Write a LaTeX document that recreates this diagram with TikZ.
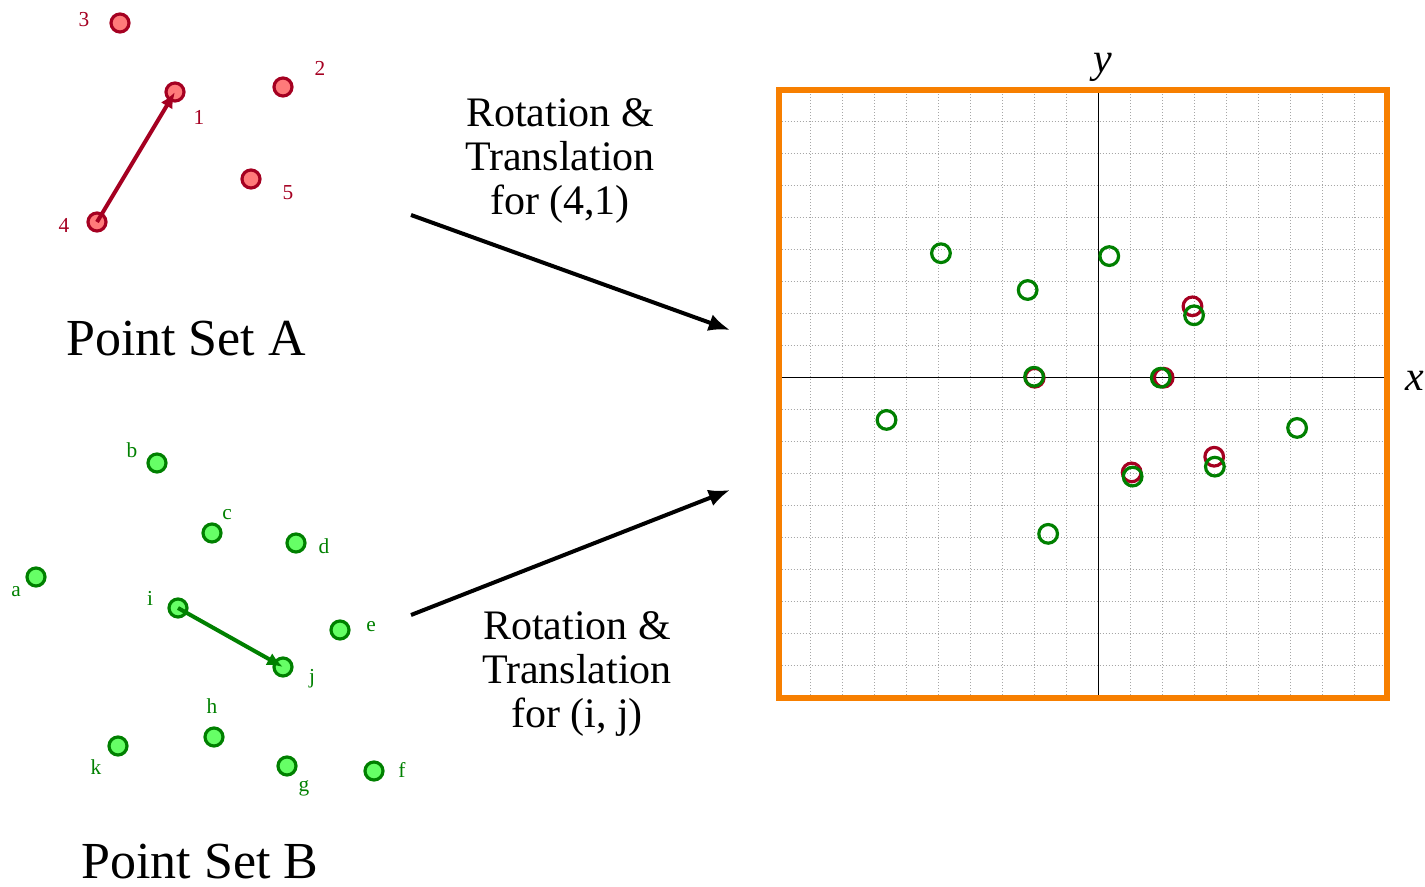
\documentclass[tikz,border=0pt]{standalone}
\usepackage{fontspec}
\setmainfont{Liberation Serif}
\usetikzlibrary{arrows.meta}
\definecolor{setred}{RGB}{165,0,33}
\definecolor{setredfill}{RGB}{255,122,122}
\definecolor{setgreen}{RGB}{0,128,0}
\definecolor{setgreenfill}{RGB}{102,255,102}
\definecolor{boxorange}{RGB}{247,127,0}
\begin{document}
\begin{tikzpicture}
		[x=0.75pt, y=-0.75pt,
		pta/.style ={circle, draw=setred, fill=setredfill, line width=2.4pt, inner sep=0pt, minimum size=13.5pt},
		ptb/.style ={circle, draw=setgreen, fill=setgreenfill, line width=2.4pt, inner sep=0pt, minimum size=13.5pt},
		lbla/.style ={text=setred, font=\fontsize{16}{16}\selectfont, inner sep=0pt},
		lblb/.style ={text=setgreen, font=\fontsize{16}{16}\selectfont, inner sep=0pt},
		title/.style ={font=\fontsize{39}{40}\selectfont, inner sep=0pt, anchor=base},
		caption/.style ={font=\fontsize{31.5}{33}\selectfont, align=center, inner sep=0pt},
		hita/.style ={circle, draw=setred, line width=2.4pt, inner sep=0pt, minimum size=14pt},
		hitb/.style ={circle, draw=setgreen, line width=2.4pt, inner sep=0pt, minimum size=14pt},
		bigarrow/.style ={draw, line width=3pt, -{Latex[length=16pt,width=13pt]}},
		]
		\useasboundingbox (0,0) rectangle (1425,887);

		% point set A
		\draw (175,92) node[pta] (p1) {};
		\draw (283,87) node[pta] (p2) {};
		\draw (120,23) node[pta] (p3) {};
		\draw (97,222) node[pta] (p4) {};
		\draw (251,179) node[pta] (p5) {};
		\draw (199,117) node[lbla] (l1) {1};
		\draw (320,68) node[lbla] (l2) {2};
		\draw (84,20) node[lbla] (l3) {3};
		\draw (64,225) node[lbla] (l4) {4};
		\draw (288,193) node[lbla] (l5) {5};
		\draw[setred, line width=3pt, -{Latex[length=12pt,width=10pt]}] (p4.center) -- (p1.center);
		\draw (186,356) node[title] (setA) {Point Set A};

		% point set B
		\draw (36,577) node[ptb] (pa) {};
		\draw (157,463) node[ptb] (pb) {};
		\draw (212,533) node[ptb] (pc) {};
		\draw (296,543) node[ptb] (pd) {};
		\draw (340,630) node[ptb] (pe) {};
		\draw (374,771) node[ptb] (pf) {};
		\draw (287,766) node[ptb] (pg) {};
		\draw (214,737) node[ptb] (ph) {};
		\draw (178,608) node[ptb] (pi) {};
		\draw (283,667) node[ptb] (pj) {};
		\draw (118,746) node[ptb] (pk) {};
		\draw (16,592) node[lblb] (la) {a};
		\draw (132,450) node[lblb] (lb) {b};
		\draw (227,515) node[lblb] (lc) {c};
		\draw (324,546) node[lblb] (ld) {d};
		\draw (371,627) node[lblb] (le) {e};
		\draw (402,770) node[lblb] (lf) {f};
		\draw (304,788) node[lblb] (lg) {g};
		\draw (212,706) node[lblb] (lh) {h};
		\draw (150,598) node[lblb] (li) {i};
		\draw (312,679) node[lblb] (lj) {j};
		\draw (96,767) node[lblb] (lk) {k};
		\draw[setgreen, line width=3pt, -{Latex[length=12pt,width=10pt]}] (pi.center) -- (pj.center);
		\draw (200,878) node[title] (setB) {Point Set B};

		% transforms
		\draw (560,161) node[caption] (rotA) {Rotation \&\\Translation\\for (4,1)};
		\draw (577,674) node[caption] (rotB) {Rotation \&\\Translation\\for (i, j)};
		\coordinate (fromA) at (411,215);
		\coordinate (toA) at (730,330);
		\coordinate (fromB) at (411,615);
		\coordinate (toB) at (730,490);
		\path[bigarrow] (fromA) -- (toA);
		\path[bigarrow] (fromB) -- (toB);

		% result plane
		\begin{scope}[shift={(1098.7,377.7)}, x=24pt, y=24pt]
			\draw[gray!70, line width=0.75pt, dash pattern=on 0.75pt off 1.5pt, step=24pt] (-10,-10) grid (9,9);
			\draw[line width=0.8pt] (-10,0) -- (9,0);
			\draw[line width=0.8pt] (0,-10) -- (0,9);
			\draw (-2.0,0.0) node[hita] (q1) {};
			\draw (2.93,2.23) node[hita] (q2) {};
			\draw (2.03,0.0) node[hita] (q3) {};
			\draw (1.03,-2.96) node[hita] (q4) {};
			\draw (3.61,-2.47) node[hita] (q5) {};
			\draw (-6.63,-1.32) node[hitb] (qa) {};
			\draw (-4.93,3.89) node[hitb] (qb) {};
			\draw (-2.22,2.74) node[hitb] (qc) {};
			\draw (-2.02,0.03) node[hitb] (qd) {};
			\draw (0.33,3.8) node[hitb] (qe) {};
			\draw (2.98,1.95) node[hitb] (qf) {};
			\draw (1.94,0.0) node[hitb] (qg) {};
			\draw (6.2,-1.57) node[hitb] (qh) {};
			\draw (1.06,-3.09) node[hitb] (qi) {};
			\draw (3.63,-2.78) node[hitb] (qj) {};
			\draw (-1.58,-4.88) node[hitb] (qk) {};
			\draw[boxorange, line width=4.5pt] (-10,-10) rectangle (9,9);
			\draw (0.12,9.7) node[caption] (yname) {\textit{y}};
			\draw (9.88,-0.1) node[caption] (xname) {\textit{x}};
		\end{scope}

	\end{tikzpicture}
\end{document}
